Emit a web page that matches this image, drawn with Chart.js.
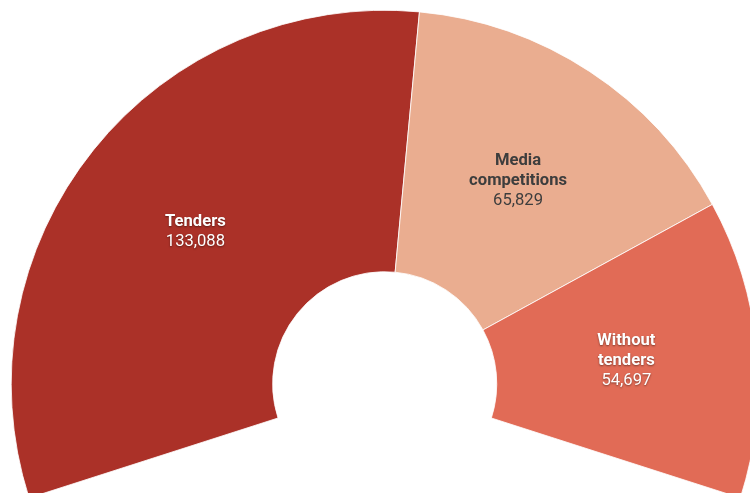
<!DOCTYPE html>
<html>
<head>
<meta charset="utf-8">
<script src="https://cdn.jsdelivr.net/npm/chart.js@4.4.1/dist/chart.umd.min.js"></script>
<style>
  html, body { margin: 0; padding: 0; background: #fff; }
  #wrap { position: relative; width: 750px; height: 493px; overflow: hidden; }
</style>
</head>
<body>
<div id="wrap"><canvas id="pie" width="750" height="493"></canvas></div>
<script>
const labels = [['Tenders'], ['Media', 'competitions'], ['Without', 'tenders']]
const values = [133088, 65829, 54697]
const colors = ['#ab3128', '#eaad90', '#e16b56']
const textColors = ['#ffffff', '#3d3d3d', '#ffffff']

// labels drawn in the middle of each slice
const sliceLabels = {
  id: 'sliceLabels',
  afterDatasetsDraw(chart) {
    const ctx = chart.ctx
    const meta = chart.getDatasetMeta(0)
    meta.data.forEach((arc, i) => {
      const pos = arc.tooltipPosition()
      const lines = labels[i].map(t => ({ t, bold: true }))
      lines.push({ t: values[i].toLocaleString('en-US'), bold: false })
      const lh = 20
      let y = pos.y - (lines.length - 1) * lh / 2
      ctx.save()
      ctx.textAlign = 'center'
      ctx.textBaseline = 'middle'
      ctx.fillStyle = textColors[i]
      if (textColors[i] === '#ffffff') {
        ctx.shadowColor = 'rgba(0,0,0,0.45)'
        ctx.shadowBlur = 2
        ctx.shadowOffsetX = 0
        ctx.shadowOffsetY = 1
      }
      lines.forEach(l => {
        ctx.font = (l.bold ? 'bold ' : '') + '16.6px Roboto'
        ctx.fillText(l.t, pos.x, y)
        y += lh
      })
      ctx.restore()
    })
  }
}

new Chart(document.getElementById('pie'), {
  type: 'doughnut',
  data: {
    labels: labels.map(l => l.join(' ')),
    datasets: [{
      data: values,
      backgroundColor: colors,
      borderColor: 'rgba(255,255,255,0.8)',
      borderWidth: 1,
      clip: false,
    }],
  },
  options: {
    responsive: false,
    animation: false,
    rotation: -107.8,
    circumference: 215.6,
    cutout: '30%',
    radius: 373.5,
    layout: { padding: { left: 19.4, top: 15.2 } },
    plugins: {
      legend: { display: false },
      tooltip: { enabled: false },
    },
  },
  plugins: [sliceLabels],
})
</script>
</body>
</html>
